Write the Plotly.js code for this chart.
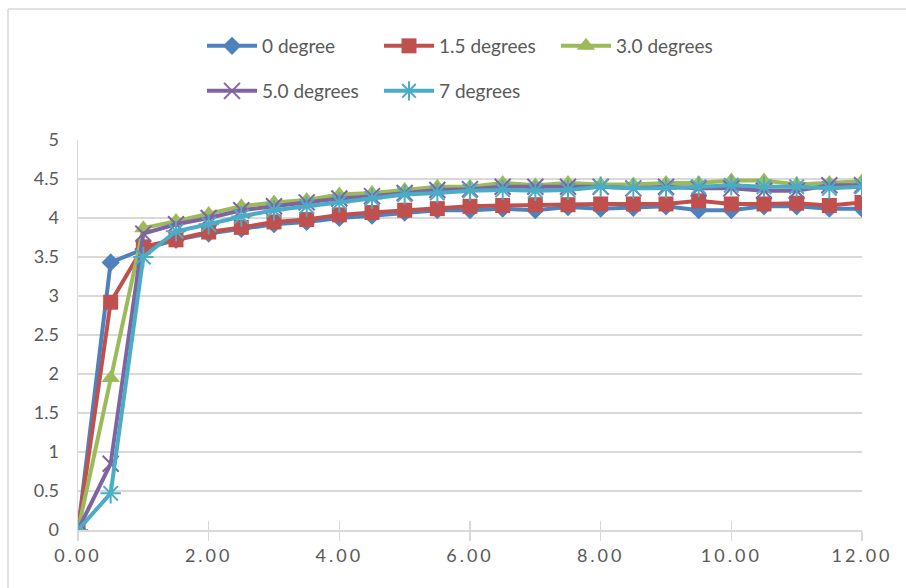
<!DOCTYPE html>
<html>
<head>
<meta charset="utf-8">
<script src="https://cdn.plot.ly/plotly-3.0.1.min.js"></script>
<style>
html,body{margin:0;padding:0;background:#fff;}
#chart{width:906px;height:588px;}
.xaxislayer-above .xtick text{letter-spacing:3px;}
</style>
</head>
<body>
<div id="chart"></div>
<script>
const xValues = [0,0.5,1,1.5,2,2.5,3,3.5,4,4.5,5,5.5,6,6.5,7,7.5,8,8.5,9,9.5,10,10.5,11,11.5,12];
const seriesNames = ['0 degree','1.5 degrees','3.0 degrees','5.0 degrees','7 degrees'];
const deg0  = [0,3.43,3.60,3.72,3.80,3.86,3.92,3.95,4.00,4.03,4.07,4.10,4.10,4.12,4.10,4.14,4.12,4.13,4.15,4.10,4.10,4.15,4.15,4.12,4.12];
const deg15 = [0,2.92,3.63,3.72,3.82,3.88,3.95,3.98,4.04,4.07,4.10,4.12,4.15,4.16,4.17,4.17,4.18,4.18,4.18,4.22,4.18,4.18,4.19,4.16,4.20];
const deg30 = [0,1.95,3.87,3.96,4.05,4.15,4.20,4.23,4.30,4.32,4.36,4.40,4.40,4.45,4.42,4.45,4.43,4.43,4.45,4.45,4.48,4.48,4.43,4.45,4.47];
const deg50 = [0,0.85,3.80,3.92,4.00,4.10,4.15,4.20,4.25,4.28,4.32,4.36,4.37,4.40,4.40,4.40,4.40,4.38,4.40,4.38,4.38,4.35,4.35,4.42,4.42];
const deg70 = [0,0.47,3.50,3.83,3.92,4.02,4.10,4.15,4.20,4.25,4.30,4.32,4.35,4.36,4.35,4.36,4.40,4.38,4.38,4.40,4.42,4.40,4.40,4.38,4.40];

const colors = ['#4F81BD','#C0504D','#9BBB59','#8064A2','#4BACC6'];
const symbols = ['diamond','square','triangle-up','x-thin','asterisk'];
const sizes = [14,15,16,16,17];
const data = [deg0,deg15,deg30,deg50,deg70];

const traces = data.map((ys,i)=>({
  x: xValues, y: ys, name: seriesNames[i], type:'scatter', mode:'lines+markers',
  xaxis: i===4 ? 'x2' : 'x',
  legend: i<3 ? 'legend' : 'legend2',
  line:{color:colors[i], width:4},
  marker:{symbol:symbols[i], size:sizes[i], color:colors[i],
          line:{color:colors[i], width:(i>=3?2:0)}}
}));

const tickFont = {family:'Lato, "Liberation Sans", sans-serif', size:18, color:'#595959'};
const legendCommon = {orientation:'h', xref:'container', yref:'container', xanchor:'left', yanchor:'middle',
  font:{family:'Lato, "Liberation Sans", sans-serif', size:19, color:'#595959'},
  bgcolor:'rgba(0,0,0,0)', entrywidth:112, entrywidthmode:'pixels', itemwidth:50, tracegroupgap:0};

const layout = {
  width:906, height:588,
  margin:{l:78, r:44, t:140, b:58},
  paper_bgcolor:'#fff', plot_bgcolor:'#fff',
  showlegend:true,
  legend: Object.assign({}, legendCommon, {x:202/906, y:1-46/588}),
  legend2: Object.assign({}, legendCommon, {x:202/906, y:1-91/588}),
  xaxis:{range:[0,12], dtick:2, tick0:0, tickformat:'.2f', showgrid:false, zeroline:false,
    showline:true, linecolor:'#d9d9d9', linewidth:1.5, ticks:'outside', ticklen:9, tickwidth:1.5,
    tickcolor:'#d9d9d9', tickfont:tickFont, fixedrange:true},
  xaxis2:{overlaying:'x', matches:'x', range:[0,12], dtick:2, tick0:0, showgrid:false, zeroline:false,
    showline:false, ticks:'inside', ticklen:9, tickwidth:1.5, tickcolor:'#d9d9d9', showticklabels:false, anchor:'y'},
  yaxis:{range:[0,5], dtick:0.5, tick0:0, showgrid:true, gridcolor:'#d9d9d9', gridwidth:1.5, zeroline:false,
    showline:true, linecolor:'#d9d9d9', linewidth:1.5, ticks:'', ticklabelstandoff:14, tickfont:tickFont, fixedrange:true},
  shapes:[
    {type:'line', xref:'paper', yref:'paper', x0:(8-78)/784, x1:(8-78)/784, y0:(530-9)/390, y1:-0.2, line:{color:'#d9d9d9', width:1.5}},
    {type:'line', xref:'paper', yref:'paper', x0:(8-78)/784, x1:1.2, y0:(530-9)/390, y1:(530-9)/390, line:{color:'#d9d9d9', width:1.5}}
  ]
};

Plotly.newPlot('chart', traces, layout, {displayModeBar:false, staticPlot:true});
</script>
</body>
</html>
